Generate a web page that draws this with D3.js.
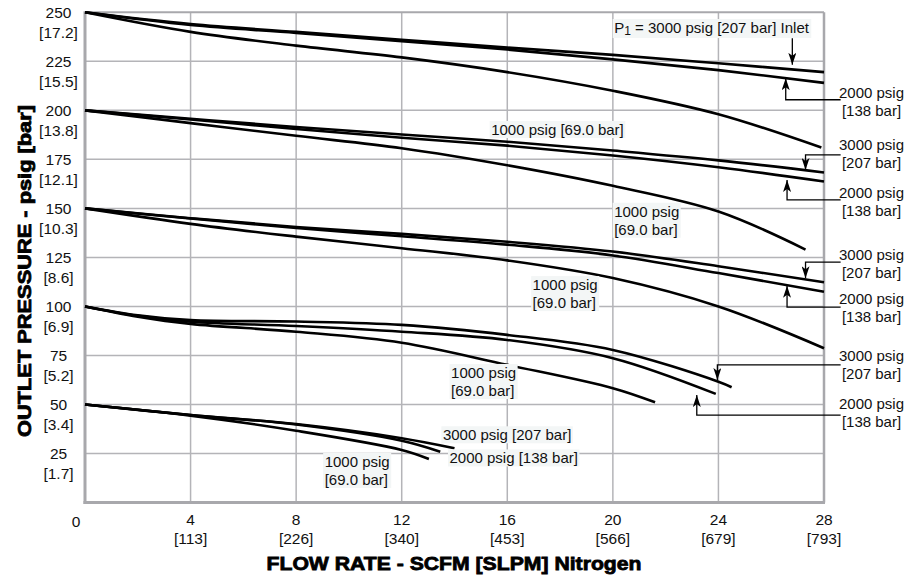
<!DOCTYPE html>
<html>
<head>
<meta charset="utf-8">
<script src="https://cdn.jsdelivr.net/npm/d3@7"></script>
<style>
body { margin: 0; background: #fff; }
text { font-family: "Liberation Sans", Arial, sans-serif; fill: #111; }
</style>
</head>
<body>
<svg width="908" height="580"></svg>
<script>
// axis ticks
var flowTicks = [4, 8, 12, 16, 20, 24, 28];
var slpmLabels = ["[113]", "[226]", "[340]", "[453]", "[566]", "[679]", "[793]"];
var pressTicks = [25, 50, 75, 100, 125, 150, 175, 200, 225, 250];
var barLabels = ["[1.7]", "[3.4]", "[5.2]", "[6.9]", "[8.6]", "[10.3]", "[12.1]", "[13.8]", "[15.5]", "[17.2]"];

// flow points (SCFM)
var flowA = [0, 4, 8, 12, 16, 20, 24, 28];

// outlet set 250 psig
var p250_3000 = [250, 244, 240, 236, 232, 228.3, 224, 219.5];
var p250_2000 = [250, 243.5, 239.5, 235.3, 231, 226, 220.5, 214];
var flow250_1000 = [0, 4, 8, 12, 16, 20, 24, 27.9];
var p250_1000 = [250, 240, 233, 227, 219.5, 210, 198, 181];

// outlet set 200 psig
var p200_3000 = [200, 195.7, 191.5, 187.7, 184, 179.5, 174.5, 168.3];
var p200_2000 = [200, 195.3, 190.5, 186, 182, 177, 171, 163.7];
var flow200_1000 = [0, 4, 8, 12, 16, 20, 24, 27.3];
var p200_1000 = [200, 193.5, 187, 180.7, 172, 161.5, 148.4, 129];

// outlet set 150 psig
var p150_3000 = [150, 145, 140.5, 137, 133, 128, 120.5, 112.3];
var p150_2000 = [150, 144.8, 140, 135.8, 131.5, 126, 117, 107.5];
var p150_1000 = [150, 142.1, 135.6, 129.7, 123.5, 114.5, 100, 78.7];

// outlet set 100 psig
var flow100_3000 = [0, 2, 4, 8, 12, 16, 20, 24, 24.5];
var p100_3000 = [100, 95.5, 93, 92.3, 90.6, 85.5, 77.8, 61.6, 58.8];
var flow100_2000 = [0, 2, 4, 8, 12, 16, 20, 23.9];
var p100_2000 = [100, 95.2, 92.2, 90, 87.1, 82.9, 73.6, 55.4];
var flow100_1000 = [0, 2, 4, 8, 12, 16, 20, 21.6];
var p100_1000 = [100, 94.8, 91.1, 87.1, 81.5, 70.2, 58.3, 51.1];

// outlet set 50 psig
var flow50_3000 = [0, 4, 8, 12, 14];
var p50_3000 = [50, 44.6, 40, 32.8, 27.7];
var flow50_2000 = [0, 4, 8, 12, 13.46];
var p50_2000 = [50, 44.6, 39.8, 31.5, 25.9];
var flow50_1000 = [0, 4, 8, 12, 13.03];
var p50_1000 = [50, 44.3, 36.6, 26.8, 22.2];

var curves = [
  [flowA, p250_3000], [flowA, p250_2000], [flow250_1000, p250_1000],
  [flowA, p200_3000], [flowA, p200_2000], [flow200_1000, p200_1000],
  [flowA, p150_3000], [flowA, p150_2000], [flowA, p150_1000],
  [flow100_3000, p100_3000], [flow100_2000, p100_2000], [flow100_1000, p100_1000],
  [flow50_3000, p50_3000], [flow50_2000, p50_2000], [flow50_1000, p50_1000]
];

var svg = d3.select('svg');
var x = d3.scaleLinear().domain([0, 28]).range([85, 824]);
var y = d3.scaleLinear().domain([0, 250]).range([502.5, 12.3]);
var gridColor = '#b4b4b8';

//grid lines
svg.append('g').selectAll('line.v')
  .data(flowTicks.slice(0, -1))
  .enter().append('line')
  .attr('x1', function(d){ return x(d); }).attr('x2', function(d){ return x(d); })
  .attr('y1', y(0)).attr('y2', y(250))
  .attr('stroke', gridColor).attr('stroke-width', 1.5);

svg.append('g').selectAll('line.h')
  .data(pressTicks.slice(0, -1))
  .enter().append('line')
  .attr('x1', x(0)).attr('x2', x(28))
  .attr('y1', function(d){ return y(d); }).attr('y2', function(d){ return y(d); })
  .attr('stroke', gridColor).attr('stroke-width', 1.5);

// frame: top and right thin, left and bottom thicker
svg.append('line').attr('x1', x(0)).attr('x2', x(28)).attr('y1', y(250)).attr('y2', y(250))
  .attr('stroke', '#a8a8ac').attr('stroke-width', 2);
svg.append('line').attr('x1', x(28)).attr('x2', x(28)).attr('y1', y(250)).attr('y2', y(0))
  .attr('stroke', '#a8a8ac').attr('stroke-width', 2.5);
svg.append('line').attr('x1', x(0)).attr('x2', x(0)).attr('y1', y(250) - 1).attr('y2', y(0) + 1.5)
  .attr('stroke', '#a8a8ac').attr('stroke-width', 3);
svg.append('line').attr('x1', x(0) - 1.5).attr('x2', x(28) + 1).attr('y1', y(0)).attr('y2', y(0))
  .attr('stroke', '#a8a8ac').attr('stroke-width', 3);

// tick labels
var yTicks = svg.append('g').selectAll('g')
  .data(pressTicks)
  .enter().append('g')
  .attr('transform', function(d){ return 'translate(58.5,' + y(d) + ')'; });
yTicks.append('text').attr('text-anchor', 'middle').attr('dy', '0.35em')
  .style('font-size', '15.5px').text(function(d){ return d; });
yTicks.append('text').attr('text-anchor', 'middle').attr('y', 20.5).attr('dy', '0.35em')
  .style('font-size', '15.5px').text(function(d, i){ return barLabels[i]; });

var xTicks = svg.append('g').selectAll('g')
  .data(flowTicks)
  .enter().append('g')
  .attr('transform', function(d){ return 'translate(' + x(d) + ',520)'; });
xTicks.append('text').attr('text-anchor', 'middle').attr('dy', '0.35em')
  .style('font-size', '15.5px').text(function(d){ return d; });
xTicks.append('text').attr('text-anchor', 'middle').attr('y', 19).attr('dy', '0.35em')
  .style('font-size', '15.5px').text(function(d, i){ return slpmLabels[i]; });

svg.append('text').attr('x', 76).attr('y', 521.5).attr('dy', '0.35em')
  .attr('text-anchor', 'middle').style('font-size', '15.5px').text('0');

// axis titles
svg.append('text')
  .attr('x', 454).attr('y', 570)
  .attr('text-anchor', 'middle')
  .attr('textLength', 375).attr('lengthAdjust', 'spacingAndGlyphs')
  .style('font-size', '19px').style('font-weight', 'bold')
  .style('fill', '#000').style('stroke', '#000').style('stroke-width', 0.8)
  .text('FLOW RATE - SCFM [SLPM] Nitrogen');

svg.append('text')
  .attr('transform', 'translate(31,271) rotate(-90)')
  .attr('text-anchor', 'middle')
  .attr('textLength', 332).attr('lengthAdjust', 'spacingAndGlyphs')
  .style('font-size', '19px').style('font-weight', 'bold')
  .style('fill', '#000').style('stroke', '#000').style('stroke-width', 0.8)
  .text('OUTLET PRESSURE - psig [bar]');

// performance curves
var line = d3.line()
  .x(function(d){ return x(d[0]); })
  .y(function(d){ return y(d[1]); })
  .curve(d3.curveCatmullRom.alpha(0.5));

svg.append('g').selectAll('path')
  .data(curves)
  .enter().append('path')
  .attr('d', function(c){ return line(c[0].map(function(f, i){ return [f, c[1][i]]; })); })
  .attr('fill', 'none').attr('stroke', '#000').attr('stroke-width', 2.6);

// arrow head
svg.append('defs').append('marker')
  .attr('id', 'arrow').attr('viewBox', '0 0 12 8')
  .attr('refX', 12).attr('refY', 4)
  .attr('markerWidth', 12).attr('markerHeight', 8)
  .attr('markerUnits', 'userSpaceOnUse')
  .attr('orient', 'auto')
  .append('path').attr('d', 'M0,0 L12,4 L0,8 L3,4 Z').attr('fill', '#000');

// labels (x, y of first line in data units)
var notes = [
  {x: 20.05, y: 242.1, lines: ['P1 = 3000 psig [207 bar] Inlet'], anchor: 'start', bg: true, sub: true,
   leader: [[26.8, 236.8], [26.8, 223.2]]},
  {x: 29.8, y: 208.8, lines: ['2000 psig', '[138 bar]'], anchor: 'middle',
   leader: [[28.63, 205.4], [26.55, 205.4], [26.55, 216.4]]},
  {x: 15.39, y: 190.1, lines: ['1000 psig [69.0 bar]'], anchor: 'start', bg: true},
  {x: 29.8, y: 182.4, lines: ['3000 psig', '[207 bar]'], anchor: 'middle',
   leader: [[28.63, 177.3], [27.3, 177.3], [27.3, 169.6]]},
  {x: 29.8, y: 158.1, lines: ['2000 psig', '[138 bar]'], anchor: 'middle',
   leader: [[28.63, 154.3], [26.6, 154.3], [26.6, 164.5]]},
  {x: 20.05, y: 148.4, lines: ['1000 psig', '[69.0 bar]'], anchor: 'start', bg: true},
  {x: 29.8, y: 126.3, lines: ['3000 psig', '[207 bar]'], anchor: 'middle',
   leader: [[28.63, 122.6], [27.3, 122.6], [27.3, 114.4]]},
  {x: 29.8, y: 103.7, lines: ['2000 psig', '[138 bar]'], anchor: 'middle',
   leader: [[28.63, 99.6], [26.6, 99.6], [26.6, 110.5]]},
  {x: 16.96, y: 111, lines: ['1000 psig', '[69.0 bar]'], anchor: 'start', bg: true},
  {x: 29.8, y: 74.7, lines: ['3000 psig', '[207 bar]'], anchor: 'middle',
   leader: [[28.63, 70.2], [23.96, 70.2], [23.96, 62.5]]},
  {x: 29.8, y: 50.3, lines: ['2000 psig', '[138 bar]'], anchor: 'middle',
   leader: [[28.63, 44.6], [23.18, 44.6], [23.18, 54.8]]},
  {x: 13.87, y: 66.2, lines: ['1000 psig', '[69.0 bar]'], anchor: 'start', bg: true},
  {x: 13.56, y: 34.4, lines: ['3000 psig [207 bar]'], anchor: 'start', bg: true},
  {x: 13.81, y: 22.6, lines: ['2000 psig [138 bar]'], anchor: 'start', bg: true},
  {x: 9.08, y: 20.8, lines: ['1000 psig', '[69.0 bar]'], anchor: 'start', bg: true}
];

notes.forEach(function(n){
  var g = svg.append('g');
  var t = g.append('text')
    .attr('text-anchor', n.anchor)
    .style('font-size', '15px');
  n.lines.forEach(function(s, i){
    var ts = t.append('tspan').attr('x', x(n.x)).attr('y', y(n.y) + i * 18).attr('dy', '0.35em');
    if (n.sub) {
      ts.text('P');
      ts.append('tspan').attr('dy', '2').style('font-size', '12px').text('1');
      ts.append('tspan').attr('dy', '-2').text(s.slice(2));
    } else {
      ts.text(s);
    }
  });
  if (n.bg) {
    var b = t.node().getBBox();
    g.insert('rect', 'text')
      .attr('x', b.x - 1.5).attr('y', b.y)
      .attr('width', b.width + 3).attr('height', b.height)
      .attr('fill', '#f3f6f6');
  }
  if (n.leader) {
    svg.append('path')
      .attr('d', d3.line()(n.leader.map(function(p){ return [x(p[0]), y(p[1])]; })))
      .attr('fill', 'none').attr('stroke', '#000').attr('stroke-width', 1.3)
      .attr('marker-end', 'url(#arrow)');
  }
});
</script>
</body>
</html>
